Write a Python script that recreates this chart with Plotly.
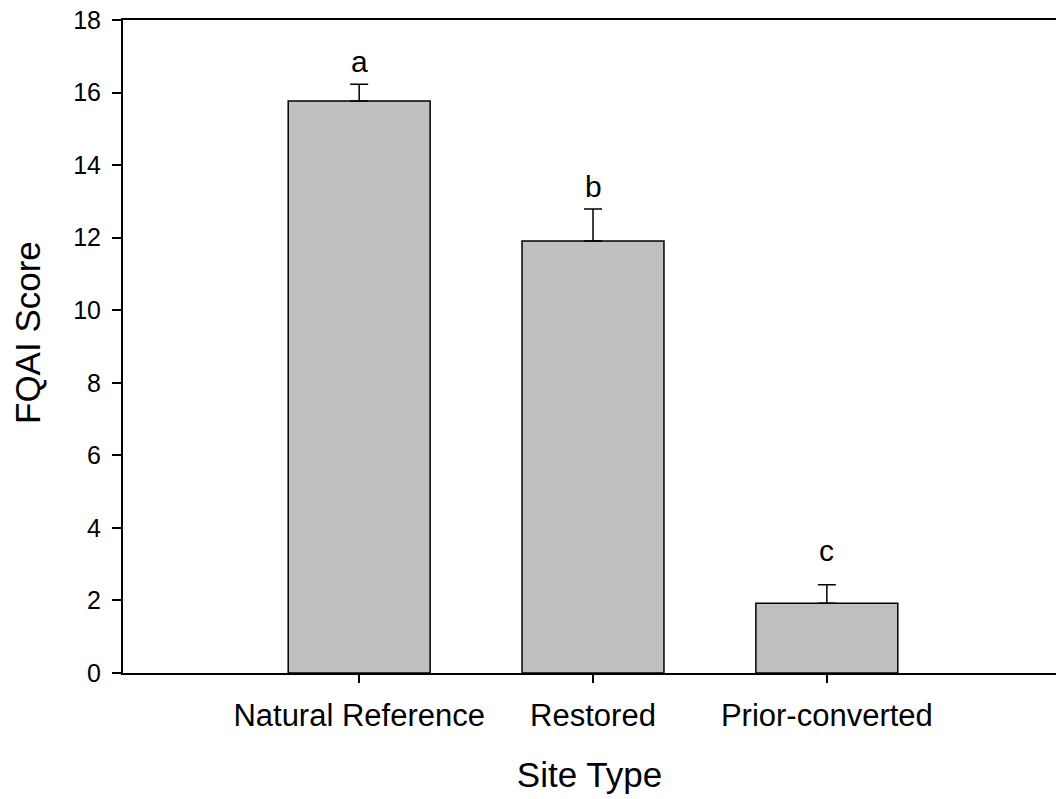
import plotly.graph_objects as go

categories = ["Natural Reference", "Restored", "Prior-converted"]
means = [15.77, 11.91, 1.92]
se = [0.46, 0.88, 0.51]
letters = ["a", "b", "c"]
letter_y = [16.85, 13.4, 3.38]

FONT = "Liberation Sans, Arial"

fig = go.Figure()
fig.add_trace(go.Bar(
    x=[0, 1, 2], y=means,
    width=0.607,
    marker=dict(color="#c0c0c0", line=dict(color="black", width=1.5)),
    error_y=dict(type="data", array=se, symmetric=False, arrayminus=[0, 0, 0],
                 color="black", thickness=1.5, width=9),
))
for i, (l, ly) in enumerate(zip(letters, letter_y)):
    fig.add_annotation(x=i, y=ly, text=l, showarrow=False,
                       font=dict(size=30, color="black", family=FONT))

# y-axis title as annotation (slightly above plot centre, as in reference)
fig.add_annotation(xref="paper", yref="paper", x=-0.1018, y=0.5207,
                   xanchor="center", yanchor="middle", textangle=-90,
                   text="FQAI Score", showarrow=False,
                   font=dict(size=35, color="black", family=FONT))

fig.update_layout(
    width=1056, height=799,
    margin=dict(l=123, r=0, t=20, b=126),
    plot_bgcolor="white", paper_bgcolor="white",
    showlegend=False,
    font=dict(family=FONT, color="black"),
    xaxis=dict(range=[-1.01, 2.98], tickvals=[0, 1, 2], ticktext=categories,
               showline=True, linecolor="black", linewidth=2, mirror=True,
               ticks="outside", ticklen=8, tickwidth=1.5, tickcolor="black",
               tickfont=dict(size=31), showgrid=False, zeroline=False,
               ticklabelstandoff=6,
               title=dict(text="Site Type", font=dict(size=35), standoff=30)),
    yaxis=dict(range=[0, 18], dtick=2,
               showline=True, linecolor="black", linewidth=2,
               ticks="outside", ticklen=9, tickwidth=1.5, tickcolor="black",
               tickfont=dict(size=25), showgrid=False, zeroline=False,
               ticklabelstandoff=6),
)
fig.write_html("out.html")
